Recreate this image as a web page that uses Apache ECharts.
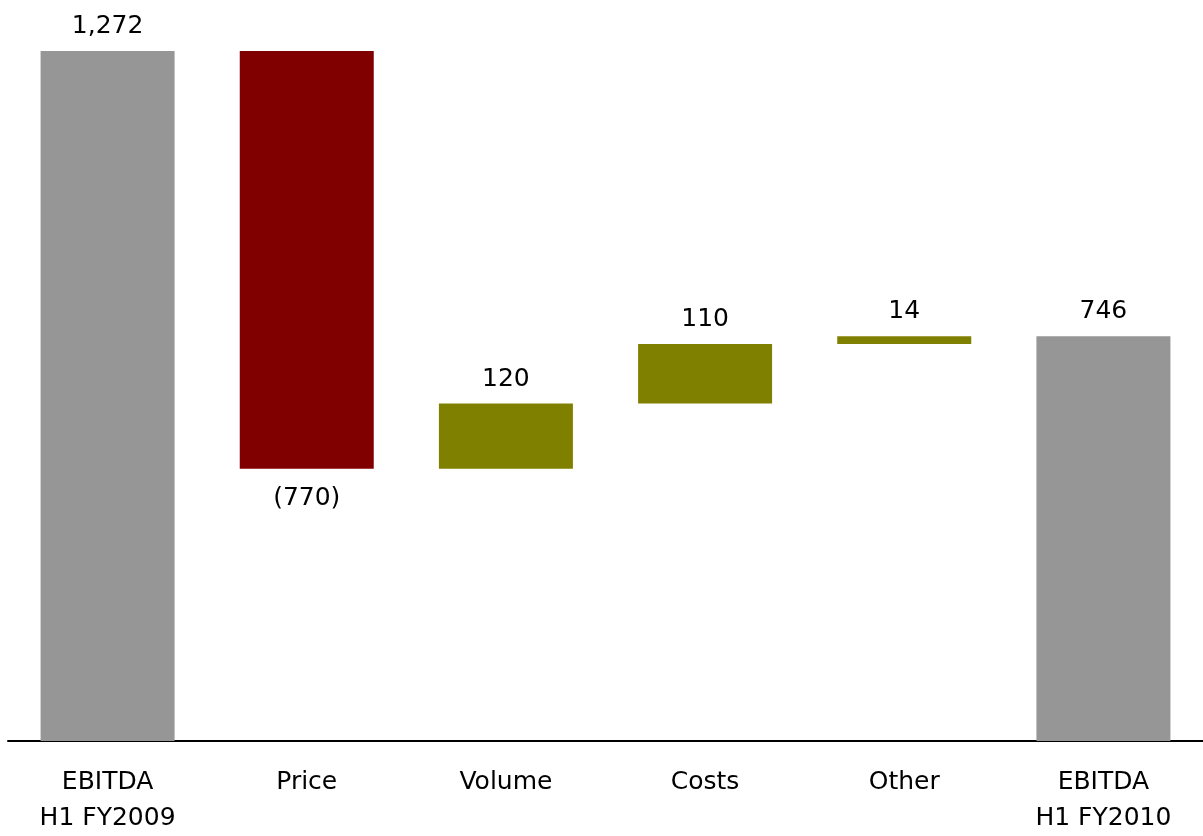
<!DOCTYPE html>
<html>
<head>
<meta charset="utf-8">
<title>EBITDA bridge H1 FY2009 to H1 FY2010</title>
<script src="https://cdn.jsdelivr.net/npm/echarts@6/dist/echarts.min.js"></script>
<style>
  html, body { margin: 0; padding: 0; background: #ffffff; overflow: hidden; }
  #chart { width: 1203px; height: 836px; }
</style>
</head>
<body>
<div id="chart"></div>
<script>
// Bridge steps, left to right
const categories = ['EBITDA\nH1 FY2009', 'Price', 'Volume', 'Costs', 'Other', 'EBITDA\nH1 FY2010'];
// Signed change for each step; first and last are totals
const stepValues = [1272, -770, 120, 110, 14, 746];
const stepKinds = ['total', 'delta', 'delta', 'delta', 'delta', 'total'];

const COLORS = { total: '#969696', down: '#800000', up: '#808000' };

// Hidden offset under each step plus the visible segment
const offsets = [];
const segments = [];
let running = 0;
stepValues.forEach((v, i) => {
  if (stepKinds[i] === 'total') {
    offsets.push(0);
    segments.push(v);
    running = v;
  } else if (v < 0) {
    running += v;
    offsets.push(running);
    segments.push(-v);
  } else {
    offsets.push(running);
    segments.push(v);
    running += v;
  }
});

// Negative steps are shown in parentheses
function fmt(v) {
  const s = Math.abs(v).toLocaleString('en-US');
  return v < 0 ? '(' + s + ')' : s;
}

const FONT = 'DejaVu Sans';

const visibleData = segments.map((s, i) => {
  const v = stepValues[i];
  const color = stepKinds[i] === 'total' ? COLORS.total : (v < 0 ? COLORS.down : COLORS.up);
  return {
    value: s,
    itemStyle: { color: color },
    label: v < 0 ? { position: 'bottom', distance: 17 } : { position: 'top', distance: 12 }
  };
});

const chart = echarts.init(document.getElementById('chart'), null, { renderer: 'canvas' });
chart.setOption({
  animation: false,
  backgroundColor: '#ffffff',
  grid: { left: 8, right: -16, top: 51, bottom: 86, containLabel: false },
  xAxis: {
    type: 'category',
    data: categories,
    axisLine: { show: true, lineStyle: { color: '#000000', width: 2 } },
    axisTick: { show: false },
    axisLabel: {
      interval: 0,
      margin: 23,
      color: '#000000',
      fontFamily: FONT,
      fontSize: 25,
      lineHeight: 36
    }
  },
  yAxis: {
    type: 'value',
    min: 0,
    max: 1272,
    show: false,
    splitLine: { show: false }
  },
  series: [
    {
      name: 'offset',
      type: 'bar',
      stack: 'bridge',
      barWidth: 134,
      itemStyle: { color: 'rgba(0,0,0,0)' },
      emphasis: { disabled: true },
      data: offsets
    },
    {
      name: 'step',
      type: 'bar',
      stack: 'bridge',
      barWidth: 134,
      data: visibleData,
      label: {
        show: true,
        color: '#000000',
        fontFamily: FONT,
        fontSize: 25,
        formatter: p => fmt(stepValues[p.dataIndex])
      }
    }
  ]
});
</script>
</body>
</html>
